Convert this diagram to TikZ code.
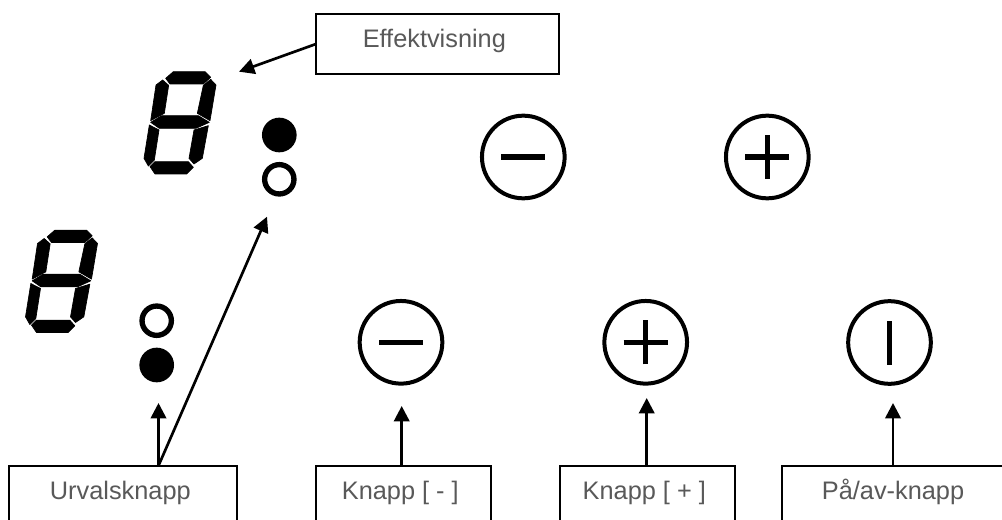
\documentclass[tikz,border=0pt]{standalone}
\usepackage{fontspec}
\setmainfont{Liberation Sans}
\usetikzlibrary{arrows.meta}
\definecolor{lbl}{HTML}{595959}
\newcommand{\boxtext}[1]{\raisebox{-2.8pt}[0pt][0pt]{#1\kern4.5pt}}
\newcommand{\sevenseg}{%
  \filldraw[line width=0.5pt,line join=round] (160,35)--(255,35)--(272,52)--(250,72)--(150,72)--(137,55)--cycle;
  \filldraw[line width=0.5pt,line join=round] (128,60)--(146,76)--(133,160)--(92,182)--(108,75)--cycle;
  \filldraw[line width=0.5pt,line join=round] (272,58)--(288,75)--(270,182)--(232,160)--(250,76)--cycle;
  \filldraw[line width=0.5pt,line join=round] (92,187)--(125,167)--(235,167)--(268,187)--(228,205)--(118,205)--cycle;
  \filldraw[line width=0.5pt,line join=round] (88,195)--(117,210)--(103,300)--(85,318)--(72,295)--cycle;
  \filldraw[line width=0.5pt,line join=round] (265,197)--(247,295)--(222,312)--(207,295)--(222,210)--cycle;
  \filldraw[line width=0.5pt,line join=round] (105,305)--(205,305)--(220,322)--(200,342)--(105,342)--(90,320)--cycle;
}
\begin{document}
\begin{tikzpicture}[x=0.75pt,y=-0.75pt,
  lab/.style={draw=black,line width=1.5pt,fill=white,text=lbl,font=\fontsize{19pt}{22pt}\selectfont,
    minimum height=45pt,inner sep=0pt,outer sep=0pt,anchor=north west},
  conn/.style={black,line width=2pt,-{Triangle[length=11.5pt,width=11.5pt]}},
  ring/.style={circle,draw=black,line width=3pt,inner sep=0pt,minimum size=62pt},
  bar/.style={black,line width=4pt},
  ledon/.style={circle,fill=black,inner sep=0pt,minimum size=26pt},
  ledoff/.style={circle,draw=black,line width=4pt,inner sep=0pt,minimum size=22pt}]
\useasboundingbox (0,0) rectangle (1002,520);
\clip (0,0) rectangle (1002,520);
\fill[white] (0,0) rectangle (1002,520);
% digits
\begin{scope}[shift={(120,60)},x=0.25pt,y=-0.25pt]\sevenseg\end{scope}
\begin{scope}[shift={(1.5,218.5)},x=0.25pt,y=-0.25pt]\sevenseg\end{scope}
% indicator lights
\node[ledon] (ledA) at (279.3,135) {};
\node[ledoff] (ledB) at (279.3,179.3) {};
\node[ledoff] (ledC) at (156.7,320.7) {};
\node[ledon] (ledD) at (156.7,365) {};
% buttons
\node[ring] (topminus) at (523.3,157) {};
\node[ring] (topplus) at (767.3,157) {};
\node[ring] (botminus) at (401,342.3) {};
\node[ring] (botplus) at (645.7,342.3) {};
\node[ring] (power) at (889.5,342.5) {};
\draw[bar] ([xshift=-16.5pt]topminus.center) -- ([xshift=16.5pt]topminus.center);
\draw[bar] ([xshift=-16.5pt]topplus.center) -- ([xshift=16.5pt]topplus.center);
\draw[bar] ([yshift=-16.5pt]topplus.center) -- ([yshift=16.5pt]topplus.center);
\draw[bar] ([xshift=-16.5pt]botminus.center) -- ([xshift=16.5pt]botminus.center);
\draw[bar] ([xshift=-16.5pt]botplus.center) -- ([xshift=16.5pt]botplus.center);
\draw[bar] ([yshift=-16.5pt]botplus.center) -- ([yshift=16.5pt]botplus.center);
\draw[bar] ([yshift=-16.5pt]power.center) -- ([yshift=16.5pt]power.center);
% labels
\node[lab,minimum width=182pt] (effekt) at (316,14) {\boxtext{Effektvisning}};
\node[lab,minimum width=171pt] (urval) at (9.3,465.7) {\boxtext{Urvalsknapp}};
\node[lab,minimum width=131pt] (kminus) at (316,465.7) {\boxtext{Knapp [ - ]}};
\node[lab,minimum width=131pt] (kplus) at (560,465.7) {\boxtext{Knapp [ + ]}};
\node[lab,minimum width=171.5pt] (paav) at (781.7,465.7) {\boxtext{På/av-knapp}};
% arrow ends
\coordinate (tipE) at (239,71.7);
\coordinate (tipU) at (158.5,403);
\coordinate (tipL) at (267,216.7);
\coordinate (tipM) at (401.7,406);
\coordinate (tipP) at (646.7,398);
\coordinate (tipO) at (893,403);
\coordinate (startU) at (158.5,465.7);
\coordinate (startM) at (401.7,465.7);
\coordinate (startP) at (646.7,465.7);
\coordinate (startO) at (893,465.7);
\coordinate (startE) at (316,44);
\draw[conn] (startE) -- (tipE);
\draw[conn] (startU) -- (tipU);
\draw[conn] (startU) -- (tipL);
\draw[conn] (startM) -- (tipM);
\draw[conn] (startP) -- (tipP);
\draw[conn] (startO) -- (tipO);
\end{tikzpicture}
\end{document}
